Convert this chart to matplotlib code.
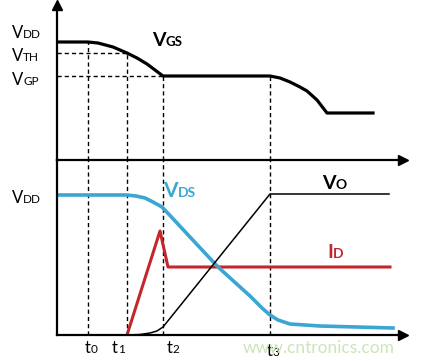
"""Switching waveforms of a MOSFET: VGS on top, VDS / ID / VO below."""

import matplotlib.pyplot as plt

W, H = 428, 361
FONT = ['Lato', 'DejaVu Sans']

# time marks t0..t3 (arbitrary time units)
t_marks = [3.1, 7.0, 10.6, 21.3]
t_names = ['0', '1', '2', '3']

# gate voltage levels (top panel units)
v_dd_gate = 11.8
v_th = 10.7
v_gp = 8.4

# VGS waveform
vgs_t = [0, 3.1, 4.1, 5.6, 7.0, 8.0, 9.0, 9.8, 10.6, 21.3, 22.3, 23.3, 24.3,
         25.0, 26.0, 27.0, 31.6]
vgs_v = [11.8, 11.8, 11.7, 11.3, 10.7, 10.2, 9.6, 9.0, 8.4, 8.4, 8.2, 7.8, 7.3,
         6.9, 6.0, 4.7, 4.7]

# VDS waveform (bottom panel units)
vds_t = [0, 7.0, 7.9, 8.8, 9.6, 10.5, 11.3, 13.3, 16.1, 19.3, 20.5, 21.3,
         22.1, 23.3, 26.3, 33.6]
vds_v = [14.0, 14.0, 13.9, 13.7, 13.3, 12.8, 11.95, 9.8, 6.8, 3.9, 2.7, 2.0,
         1.5, 1.1, 0.9, 0.7]

# drain current
id_t = [7.0, 10.3, 11.1, 33.3]
id_v = [0, 10.4, 6.8, 6.8]

# output voltage
vo_t = [7.0, 8.3, 9.3, 10.0, 10.6, 21.3, 33.2]
vo_v = [0, 0.05, 0.2, 0.4, 0.8, 14.1, 14.1]

CYAN = '#3ba6d2'
RED = '#c4262c'
DASH = (0, (3, 2.2))

fig = plt.figure(figsize=(W / 100, H / 100), dpi=100)
fig.patch.set_facecolor('white')

# top panel spans pixel rows 5..160, bottom panel 160..335
ax_top = fig.add_axes([57 / W, 1 - 160 / H, 346 / W, 155 / H])
ax_bot = fig.add_axes([57 / W, 1 - 335 / H, 346 / W, 175 / H])

for ax, ytop in ((ax_top, 15.5), (ax_bot, 17.5)):
    ax.set_xlim(0, 34.6)
    ax.set_ylim(0, ytop)
    ax.patch.set_alpha(0)
    ax.set_xticks([])
    ax.set_yticks([])
    for side in ('top', 'right'):
        ax.spines[side].set_visible(False)
    for side in ('left', 'bottom'):
        ax.spines[side].set_linewidth(1.6)
    # arrow on the time axis
    ax.plot(1, 0, marker='>', ms=7, color='black',
            transform=ax.transAxes, clip_on=False)
ax_top.plot(0, 1, marker='^', ms=7, color='black',
            transform=ax_top.transAxes, clip_on=False)

# dashed guides
start_levels = [v_dd_gate, v_th, v_gp, v_gp]
for t, lev in zip(t_marks, start_levels):
    ax_top.vlines(t, 0, lev, colors='black', lw=1.0, linestyles=DASH)
    ax_bot.vlines(t, 0, 17.5, colors='black', lw=1.0, linestyles=DASH)
ax_top.hlines([v_th, v_gp], 0, [t_marks[1], t_marks[2]], colors='black',
              lw=1.0, linestyles=DASH)

# waveforms
ax_top.plot(vgs_t, vgs_v, color='black', lw=2.3, solid_joinstyle='round')
ax_bot.plot(id_t, id_v, color=RED, lw=2.2)
ax_bot.plot(vds_t, vds_v, color=CYAN, lw=2.6, solid_joinstyle='round')
ax_bot.plot(vo_t, vo_v, color='black', lw=1.1)

renderer = fig.canvas.get_renderer()


def sub_label(x, y, main, sub, size, sub_size, color='black', weight='normal'):
    """Draw a letter followed by a smaller suffix; x, y are pixels from top-left."""
    t = fig.text(x / W, 1 - y / H, main, fontsize=size, color=color,
                 fontweight=weight, family=FONT, va='baseline', ha='left')
    bb = t.get_window_extent(renderer=renderer)
    fig.text(bb.x1 / W, 1 - y / H, sub, fontsize=sub_size, color=color,
             fontweight=weight, family=FONT, va='baseline', ha='left')


# level labels on the left
sub_label(12, 38, 'V', 'DD', 12, 8.5)
sub_label(12, 61, 'V', 'TH', 12, 8.5)
sub_label(12, 85, 'V', 'GP', 12, 8.5)
sub_label(12, 203, 'V', 'DD', 12, 8.5)

# curve names
sub_label(152, 46, 'V', 'GS', 14, 9.5, weight='bold')
sub_label(163, 197, 'V', 'DS', 15, 10, color=CYAN, weight='bold')
sub_label(322, 189, 'V', 'O', 14, 10, weight='bold')
sub_label(327, 258, 'I', 'D', 14, 10, color=RED, weight='bold')

# time labels
t_label_x = [85, 112, 167, 267]
t_label_y = [353, 353, 353, 356]
for x, y, n in zip(t_label_x, t_label_y, t_names):
    sub_label(x, y, 't', n, 12, 8.5)

# watermark
fig.text(243 / W, 1 - 353 / H, 'www.cntronics.com', color='#cbe6b8',
         fontsize=12.5, family=FONT, va='baseline', ha='left')

fig.savefig('out.png', dpi=100, facecolor='white')
